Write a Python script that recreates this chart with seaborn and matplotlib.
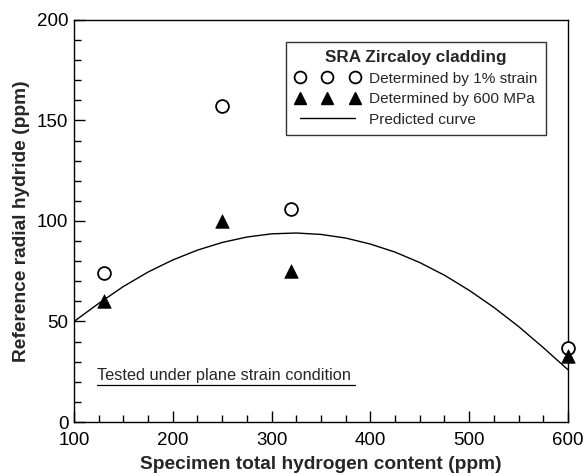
import matplotlib
matplotlib.use("Agg")
import matplotlib.pyplot as plt
import seaborn as sns
import pandas as pd
from matplotlib.lines import Line2D
from matplotlib.ticker import MultipleLocator

# Data
h_points = [130, 250, 320, 600]
strain_1pct = [74, 157, 106, 37]
mpa_600 = [60, 100, 75, 33]

curve_x = [100, 125, 150, 175, 200, 225, 250, 275, 300, 325, 350, 375, 400, 425, 450, 475, 500, 525, 550, 575, 600]
curve_y = [50, 59, 67.4, 74.6, 80.6, 85.5, 89.3, 92.0, 93.6, 94, 93.3, 91.5, 88.5, 84.5, 79.3, 73, 65.5, 57, 47.5, 37, 26]

sns.set_theme(style="white")
plt.rcParams['font.family'] = ['Liberation Sans', 'DejaVu Sans']

fig = plt.figure(figsize=(5.85, 4.74), dpi=100)
ax = fig.add_axes([0.1265, 0.1097, 0.9709 - 0.1265, 0.958 - 0.1097])

df_pts = pd.DataFrame({"h": h_points, "s": strain_1pct, "m": mpa_600})
df_curve = pd.DataFrame({"x": curve_x, "y": curve_y})

sns.lineplot(data=df_curve, x="x", y="y", ax=ax, color="black", linewidth=1.0, sort=False)
sns.scatterplot(data=df_pts, x="h", y="s", ax=ax, marker="o", s=85, facecolor="white",
                edgecolor="black", linewidth=1.3, zorder=4, clip_on=False)
sns.scatterplot(data=df_pts, x="h", y="m", ax=ax, marker="^", s=95, color="black",
                edgecolor="black", linewidth=0.5, zorder=5, clip_on=False)

ax.set_xlim(100, 600)
ax.set_ylim(0, 200)
ax.xaxis.set_major_locator(MultipleLocator(100))
ax.xaxis.set_minor_locator(MultipleLocator(25))
ax.yaxis.set_major_locator(MultipleLocator(50))
ax.yaxis.set_minor_locator(MultipleLocator(10))
ax.tick_params(which="both", direction="in", top=False, right=False, bottom=True, left=True,
               labelsize=13.5, colors="black")
ax.tick_params(axis="x", pad=7)
ax.tick_params(axis="y", pad=4)
ax.tick_params(which="major", length=8, width=1)
ax.tick_params(which="minor", length=5, width=1)

for sp in ax.spines.values():
    sp.set_color("black")
    sp.set_linewidth(1.0)

ax.set_xlabel("Specimen total hydrogen content (ppm)", fontsize=13.8, fontweight="bold", labelpad=5)
ax.set_ylabel("Reference radial hydride (ppm)", fontsize=13.8, fontweight="bold", labelpad=5)

ax.text(0.046, 0.098, "Tested under plane strain condition", transform=ax.transAxes,
        fontsize=11.8, ha="left", va="bottom")
ax.plot([0.046, 0.569], [0.093, 0.093], transform=ax.transAxes, color="black", linewidth=0.9)

handles = [
    Line2D([], [], marker="o", linestyle="none", markerfacecolor="white", markeredgecolor="black",
           markersize=8.5, markeredgewidth=1.3),
    Line2D([], [], marker="^", linestyle="none", color="black", markersize=8.5),
    Line2D([], [], color="black", linewidth=1.0),
]
labels = ["Determined by 1% strain", "Determined by 600 MPa", "Predicted curve"]
leg = ax.legend(handles, labels, title="SRA Zircaloy cladding", loc="upper right",
                bbox_to_anchor=(0.955, 0.946), numpoints=3, fontsize=11.1, frameon=True,
                fancybox=False, edgecolor="black", handlelength=4.2, handletextpad=0.6,
                borderpad=0.55, labelspacing=0.42, borderaxespad=0)
leg.get_title().set_fontweight("bold")
leg.get_title().set_fontsize(12.3)
leg.get_frame().set_linewidth(1.0)
leg.get_frame().set_facecolor("white")

fig.savefig("out.png", dpi=100, facecolor="white")
